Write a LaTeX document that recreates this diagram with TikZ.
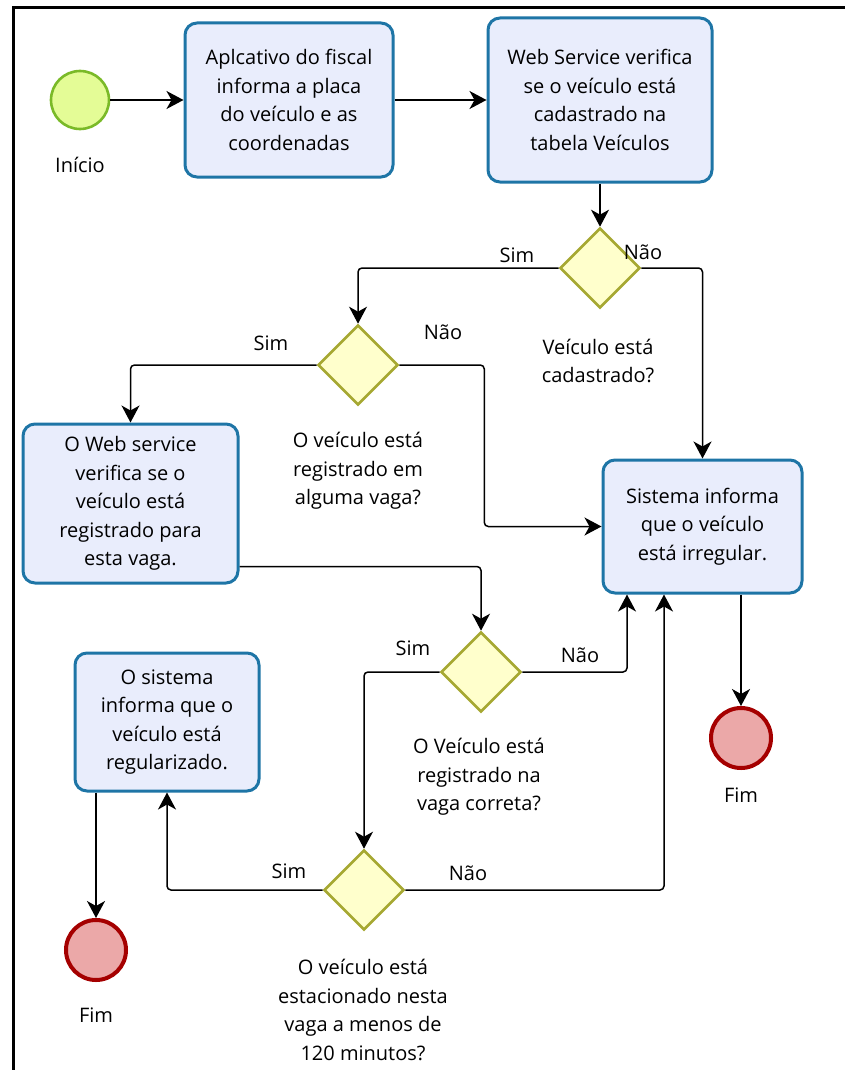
\documentclass[tikz,border=0pt]{standalone}
\usepackage{fontspec}
\setmainfont{Open Sans}
\usetikzlibrary{shapes.geometric,arrows.meta,calc}

\definecolor{taskfill}{RGB}{233,237,252}
\definecolor{taskline}{RGB}{30,117,166}
\definecolor{gatefill}{RGB}{255,255,204}
\definecolor{gateline}{RGB}{166,168,50}
\definecolor{startfill}{RGB}{228,252,150}
\definecolor{startline}{RGB}{122,186,40}
\definecolor{endfill}{RGB}{235,168,168}
\definecolor{endline}{RGB}{165,0,0}

\tikzset{
  x=1pt, y=-1pt,
  every node/.style={font=\fontsize{20}{28.5}\selectfont, inner sep=0pt},
  task/.style={draw=taskline, fill=taskfill, line width=3pt, rounded corners=12pt,
    rectangle, align=center},
  gate/.style={draw=gateline, fill=gatefill, line width=2.6pt, diamond,
    minimum width=80pt, minimum height=80pt},
  startev/.style={circle, draw=startline, fill=startfill, line width=2.6pt, minimum size=58pt},
  endev/.style={circle, draw=endline, fill=endfill, line width=4pt, minimum size=60pt},
  lbl/.style={align=center},
  flow/.style={draw=black, line width=1.5pt, rounded corners=4pt,
    -{Stealth[length=17pt,width=18pt,inset=5pt]}},
}

\begin{document}
\begin{tikzpicture}
\useasboundingbox (0,0) rectangle (845,1070);

% frame
\draw[line width=3pt] (13,1070) -- (13,8) -- (845,8);

% events and tasks
\node[startev] (start) at (80,100) {};
\node[lbl] (startlbl) at (80,165) {Início};

\node[task, minimum width=208pt, minimum height=154pt] (b1) at (289,100)
  {Aplcativo do fiscal\\informa a placa\\do veículo e as\\coordenadas};
\node[task, minimum width=224pt, minimum height=164pt] (b2) at (600,100)
  {Web Service verifica\\se o veículo está\\cadastrado na\\tabela Veículos};

\node[gate] (d1) at (600,268) {};
\node[lbl] (d1txt) at (598,361) {Veículo está\\cadastrado?};
\node[lbl] (d1sim) at (517,255) {Sim};
\node[lbl] (d1nao) at (643,252) {Não};

\node[gate] (d2) at (358,365) {};
\node[lbl] (d2txt) at (358,471) {O veículo está\\registrado em\\alguma vaga?};
\node[lbl] (d2sim) at (271,343) {Sim};
\node[lbl] (d2nao) at (443,332) {Não};

\node[task, minimum width=199pt, minimum height=133pt] (b3) at (702.5,526.5)
  {Sistema informa\\que o veículo\\está irregular.};

\node[task, minimum width=215pt, minimum height=159pt] (b4) at (130.5,503.5)
  {O Web service\\verifica se o\\veículo está\\registrado para\\esta vaga.};

\node[gate] (d3) at (481,672) {};
\node[lbl] (d3txt) at (479,777) {O Veículo está\\registrado na\\vaga correta?};
\node[lbl] (d3sim) at (413,648) {Sim};
\node[lbl] (d3nao) at (580,655) {Não};

\node[gate] (d4) at (364,890) {};
\node[lbl] (d4txt) at (363,1010) {O veículo está\\estacionado nesta\\vaga a menos de\\120 minutos?};
\node[lbl] (d4sim) at (289,871) {Sim};
\node[lbl] (d4nao) at (468,873) {Não};

\node[task, minimum width=184pt, minimum height=138pt] (b5) at (167,722)
  {O sistema\\informa que o\\veículo está\\regularizado.};

\node[endev] (end1) at (96,950) {};
\node[lbl] (end1lbl) at (96,1015) {Fim};
\node[endev] (end2) at (741,738) {};
\node[lbl] (end2lbl) at (741,795) {Fim};

% sequence flows
\draw[flow] (start) -- (b1);
\draw[flow] (b1) -- (b2);
\draw[flow] (b2) -- (d1);
\draw[flow] (d1.east) -| (b3.north);
\draw[flow] (d1.west) -| (d2.north);
\draw[flow] (d2.east) -- ++(85pt,0) |- (b3.west);
\draw[flow] (d2.west) -| (b4.north);
\draw[flow] ([yshift=18pt]b4.south east) -| (d3.north);
\draw[flow] (d3.east) -| ([xshift=-75.5pt]b3.south);
\draw[flow] (d3.west) -| (d4.north);
\draw[flow] (d4.east) -| ([xshift=-38.5pt]b3.south);
\draw[flow] (d4.west) -| (b5.south);
\draw[flow] (b5.south -| end1) -- (end1);
\draw[flow] (b3.south -| end2) -- (end2);
\end{tikzpicture}
\end{document}
